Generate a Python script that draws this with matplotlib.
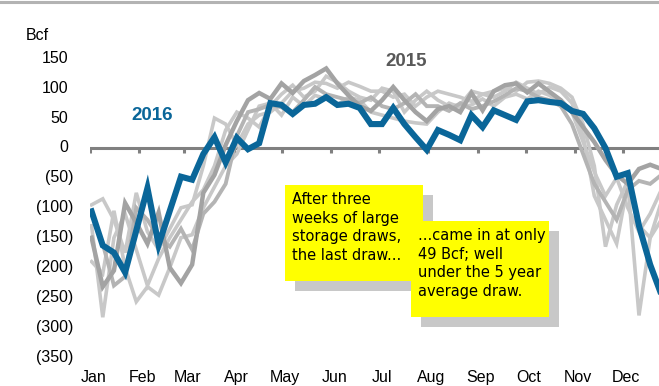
import matplotlib
matplotlib.use("Agg")
import matplotlib.pyplot as plt
from matplotlib.patches import Rectangle
import numpy as np

# Weekly net storage change (Bcf), week 0 = first week of January
weeks = np.arange(52)

storage_2016 = [-106, -163, -175, -208, -138, -67, -162, -105, -48, -53,
                -10, 18, -24, 17, -2, 8, 75, 72, 57, 72,
                74, 85, 72, 74, 67, 40, 40, 67, 40, 18,
                -3, 30, 22, 13, 55, 35, 63, 55, 47, 78,
                80, 77, 75, 62, 57, 33, 0, -48, -42, -130,
                -195, -245]

storage_2015 = [-150, -232, -205, -92, -125, -160, -108, -200, -226, -195,
                -75, -45, 5, 45, 80, 92, 82, 108, 92, 112,
                122, 133, 108, 88, 70, 62, 80, 102, 80, 60,
                45, 65, 70, 60, 92, 63, 95, 105, 108, 93,
                108, 94, 80, 60, 35, 10, -20, -45, -60, -35,
                -28, -35]

storage_2014 = [-110, -160, -230, -215, -100, -120, -150, -165, -135, -170,
                -110, -90, -60, 20, 60, 65, 72, 68, 60, 80,
                102, 90, 85, 80, 75, 85, 70, 65, 75, 90,
                70, 70, 62, 75, 65, 70, 78, 88, 100, 95,
                85, 80, 70, 40, -10, -60, -90, -120, -70, -55,
                -60, -45]

storage_2013 = [-95, -85, -120, -175, -75, -140, -170, -135, -100, -95,
                -30, 50, 40, 5, 40, 55, 60, 75, 95, 100,
                110, 108, 100, 110, 103, 95, 95, 85, 90, 70,
                85, 95, 90, 85, 78, 90, 95, 100, 95, 110,
                112, 108, 100, 85, 40, -30, -165, -95, -55, -130,
                -150, -120]

storage_2012 = [-130, -283, -150, -110, -170, -230, -185, -150, -120, -90,
                -70, -30, 30, 60, 50, 35, 70, 90, 105, 85,
                95, 120, 110, 95, 85, 80, 100, 95, 60, 80,
                95, 80, 70, 72, 95, 90, 85, 95, 110, 100,
                90, 102, 95, 75, 20, -80, -120, -160, -60, -280,
                -150, -90]

storage_2011 = [-190, -210, -105, -200, -257, -232, -246, -200, -150, -145,
                -100, -65, -30, -10, 30, 70, 75, 55, 85, 70,
                88, 82, 72, 85, 80, 60, 55, 50, 45, 42,
                40, 60, 75, 68, 72, 82, 70, 85, 90, 82,
                95, 88, 75, 60, 10, -40, -80, -50, -100, -140,
                -110, -70]

month_labels = ["Jan", "Feb", "Mar", "Apr", "May", "Jun",
                "Jul", "Aug", "Sep", "Oct", "Nov", "Dec"]
month_start_day = [0, 31, 59, 90, 120, 151, 181, 212, 243, 273, 304, 334]
y_ticks = list(range(-350, 151, 50))

W, H = 659, 386
fig = plt.figure(figsize=(W / 100, H / 100), dpi=100)
fig.patch.set_facecolor("white")
plt.rcParams["font.family"] = ["Liberation Sans", "DejaVu Sans"]

# axes spans day 0..365, right part runs past the figure edge
px_left, px_right = 90, 672.5
ymin, ymax = -370, 180
py_top = 148 - 0.598 * ymax
py_bot = 148 - 0.598 * ymin
ax = fig.add_axes([px_left / W, 1 - py_bot / H,
                   (px_right - px_left) / W, (py_bot - py_top) / H])
ax.set_xlim(0, 365)
ax.set_ylim(ymin, ymax)
ax.axis("off")

days = 1 + 7 * weeks

light = "#c8c8c8"
mid = "#b4b4b4"
dark = "#a3a3a3"
for series in (storage_2011, storage_2012, storage_2013):
    ax.plot(days, series, color=light, lw=2.6, zorder=2, solid_joinstyle="miter")
ax.plot(days, storage_2014, color=mid, lw=2.8, zorder=3, solid_joinstyle="miter")
ax.plot(days, storage_2015, color=dark, lw=3.2, zorder=4, solid_joinstyle="miter")

# zero axis with month ticks
axis_grey = "#808080"
ax.axhline(0, color=axis_grey, lw=2.2, zorder=1)
for d in month_start_day:
    ax.plot([d, d], [0, -9], color=axis_grey, lw=2.2, zorder=1,
            solid_capstyle="butt")

ax.plot(days, storage_2016, color="#0a6699", lw=4.4, zorder=6,
        solid_joinstyle="miter")

# y tick labels, negatives in parentheses
ytr = ax.get_yaxis_transform()
for v in y_ticks:
    if v < 0:
        ax.text(-0.029, v, f"({-v})", transform=ytr, ha="right", va="center",
                fontsize=11.5, color="black")
    else:
        ax.text(-0.037, v, f"{v}", transform=ytr, ha="right", va="center",
                fontsize=11.5, color="black")

fig.text(26 / W, 1 - 35.5 / H, "Bcf", ha="left", va="center",
         fontsize=11.5, color="black")

for d, lab in zip(month_start_day, month_labels):
    ax.text(d + 2, -384, lab, ha="center", va="center", fontsize=11.5,
            color="black", clip_on=False)

ax.text(39, 55, "2016", ha="center", va="center", fontsize=13.5,
        fontweight="bold", color="#0a6699")
ax.text(198, 145, "2015", ha="center", va="center", fontsize=13.5,
        fontweight="bold", color="#595959")

# top frame line
fig.add_artist(plt.Line2D([0, 1], [1 - 1.5 / H, 1 - 1.5 / H],
                          color="#b3b3b3", lw=2.2, transform=fig.transFigure))


def px_rect(x0, y0, x1, y1, color, z):
    """Rectangle given in pixel coordinates measured from the top-left."""
    fig.add_artist(Rectangle((x0 / W, 1 - y1 / H), (x1 - x0) / W,
                             (y1 - y0) / H, transform=fig.transFigure,
                             facecolor=color, edgecolor="none", zorder=z))


def note(x0, y0, x1, y1, text, tx, ty):
    sh = 10
    px_rect(x0 + sh, y0 + sh, x1 + sh, y1 + sh, "#c8c8c8", 8)
    px_rect(x0, y0, x1, y1, "#ffff00", 9)
    fig.text(tx / W, 1 - ty / H, text, ha="left", va="top", fontsize=10.5,
             family=["DejaVu Sans"], linespacing=1.3, zorder=10,
             color="black")


note(285, 185, 423, 281,
     "After three\nweeks of large\nstorage draws,\nthe last draw...", 292, 192)
note(411, 221, 549, 317,
     "...came in at only\n49 Bcf; well\nunder the 5 year\naverage draw.", 418, 228)

fig.savefig("out.png", dpi=100)
